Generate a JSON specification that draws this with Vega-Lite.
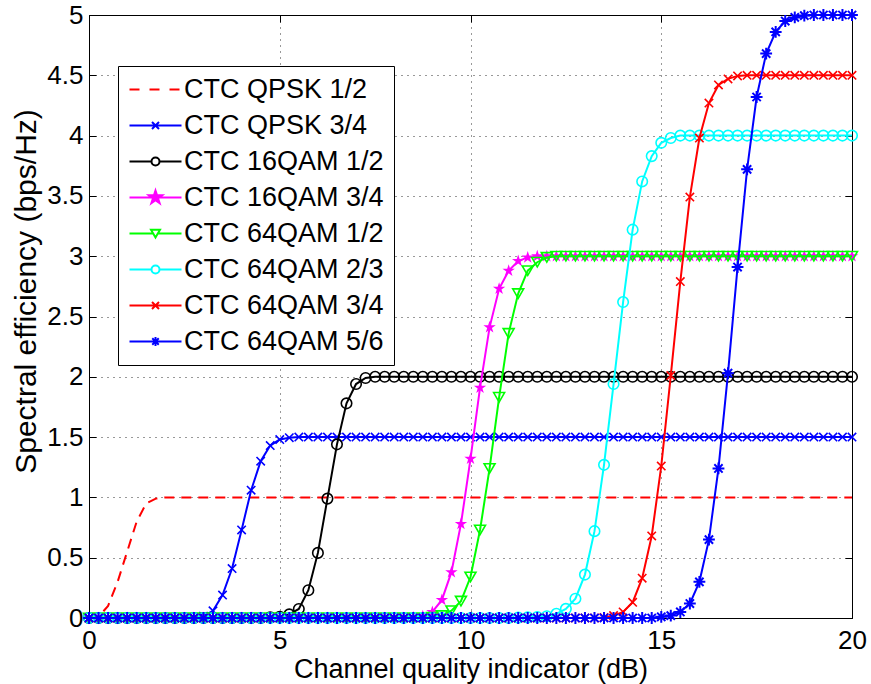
{
"$schema":"https://vega.github.io/schema/vega-lite/v6.json",
"width":763,"height":603,
"autosize":{"type":"none"},
"padding":{"left":89,"top":15,"right":19,"bottom":66},
"background":"white",
"config":{"view":{"stroke":"#000","strokeWidth":1},"font":"Liberation Sans"},
"data":{"values":[
{"s":"CTC QPSK 1/2","x":0,"y":0},{"s":"CTC QPSK 1/2","x":0.25,"y":0.01},{"s":"CTC QPSK 1/2","x":0.5,"y":0.1},{"s":"CTC QPSK 1/2","x":0.75,"y":0.3},{"s":"CTC QPSK 1/2","x":1,"y":0.55},{"s":"CTC QPSK 1/2","x":1.25,"y":0.8},{"s":"CTC QPSK 1/2","x":1.5,"y":0.95},{"s":"CTC QPSK 1/2","x":1.75,"y":0.99},{"s":"CTC QPSK 1/2","x":2,"y":1},{"s":"CTC QPSK 1/2","x":2.25,"y":1},{"s":"CTC QPSK 1/2","x":2.5,"y":1},{"s":"CTC QPSK 1/2","x":2.75,"y":1},{"s":"CTC QPSK 1/2","x":3,"y":1},{"s":"CTC QPSK 1/2","x":3.25,"y":1},{"s":"CTC QPSK 1/2","x":3.5,"y":1},{"s":"CTC QPSK 1/2","x":3.75,"y":1},{"s":"CTC QPSK 1/2","x":4,"y":1},{"s":"CTC QPSK 1/2","x":4.25,"y":1},{"s":"CTC QPSK 1/2","x":4.5,"y":1},{"s":"CTC QPSK 1/2","x":4.75,"y":1},{"s":"CTC QPSK 1/2","x":5,"y":1},{"s":"CTC QPSK 1/2","x":5.25,"y":1},{"s":"CTC QPSK 1/2","x":5.5,"y":1},{"s":"CTC QPSK 1/2","x":5.75,"y":1},{"s":"CTC QPSK 1/2","x":6,"y":1},{"s":"CTC QPSK 1/2","x":6.25,"y":1},{"s":"CTC QPSK 1/2","x":6.5,"y":1},{"s":"CTC QPSK 1/2","x":6.75,"y":1},{"s":"CTC QPSK 1/2","x":7,"y":1},{"s":"CTC QPSK 1/2","x":7.25,"y":1},{"s":"CTC QPSK 1/2","x":7.5,"y":1},{"s":"CTC QPSK 1/2","x":7.75,"y":1},{"s":"CTC QPSK 1/2","x":8,"y":1},{"s":"CTC QPSK 1/2","x":8.25,"y":1},{"s":"CTC QPSK 1/2","x":8.5,"y":1},{"s":"CTC QPSK 1/2","x":8.75,"y":1},{"s":"CTC QPSK 1/2","x":9,"y":1},{"s":"CTC QPSK 1/2","x":9.25,"y":1},{"s":"CTC QPSK 1/2","x":9.5,"y":1},{"s":"CTC QPSK 1/2","x":9.75,"y":1},{"s":"CTC QPSK 1/2","x":10,"y":1},{"s":"CTC QPSK 1/2","x":10.25,"y":1},{"s":"CTC QPSK 1/2","x":10.5,"y":1},{"s":"CTC QPSK 1/2","x":10.75,"y":1},{"s":"CTC QPSK 1/2","x":11,"y":1},{"s":"CTC QPSK 1/2","x":11.25,"y":1},{"s":"CTC QPSK 1/2","x":11.5,"y":1},{"s":"CTC QPSK 1/2","x":11.75,"y":1},{"s":"CTC QPSK 1/2","x":12,"y":1},{"s":"CTC QPSK 1/2","x":12.25,"y":1},{"s":"CTC QPSK 1/2","x":12.5,"y":1},{"s":"CTC QPSK 1/2","x":12.75,"y":1},{"s":"CTC QPSK 1/2","x":13,"y":1},{"s":"CTC QPSK 1/2","x":13.25,"y":1},{"s":"CTC QPSK 1/2","x":13.5,"y":1},{"s":"CTC QPSK 1/2","x":13.75,"y":1},{"s":"CTC QPSK 1/2","x":14,"y":1},{"s":"CTC QPSK 1/2","x":14.25,"y":1},{"s":"CTC QPSK 1/2","x":14.5,"y":1},{"s":"CTC QPSK 1/2","x":14.75,"y":1},{"s":"CTC QPSK 1/2","x":15,"y":1},{"s":"CTC QPSK 1/2","x":15.25,"y":1},{"s":"CTC QPSK 1/2","x":15.5,"y":1},{"s":"CTC QPSK 1/2","x":15.75,"y":1},{"s":"CTC QPSK 1/2","x":16,"y":1},{"s":"CTC QPSK 1/2","x":16.25,"y":1},{"s":"CTC QPSK 1/2","x":16.5,"y":1},{"s":"CTC QPSK 1/2","x":16.75,"y":1},{"s":"CTC QPSK 1/2","x":17,"y":1},{"s":"CTC QPSK 1/2","x":17.25,"y":1},{"s":"CTC QPSK 1/2","x":17.5,"y":1},{"s":"CTC QPSK 1/2","x":17.75,"y":1},{"s":"CTC QPSK 1/2","x":18,"y":1},{"s":"CTC QPSK 1/2","x":18.25,"y":1},{"s":"CTC QPSK 1/2","x":18.5,"y":1},{"s":"CTC QPSK 1/2","x":18.75,"y":1},{"s":"CTC QPSK 1/2","x":19,"y":1},{"s":"CTC QPSK 1/2","x":19.25,"y":1},{"s":"CTC QPSK 1/2","x":19.5,"y":1},{"s":"CTC QPSK 1/2","x":19.75,"y":1},{"s":"CTC QPSK 1/2","x":20,"y":1},
{"s":"CTC QPSK 3/4","x":0,"y":0},{"s":"CTC QPSK 3/4","x":0.25,"y":0},{"s":"CTC QPSK 3/4","x":0.5,"y":0},{"s":"CTC QPSK 3/4","x":0.75,"y":0},{"s":"CTC QPSK 3/4","x":1,"y":0},{"s":"CTC QPSK 3/4","x":1.25,"y":0},{"s":"CTC QPSK 3/4","x":1.5,"y":0},{"s":"CTC QPSK 3/4","x":1.75,"y":0},{"s":"CTC QPSK 3/4","x":2,"y":0},{"s":"CTC QPSK 3/4","x":2.25,"y":0},{"s":"CTC QPSK 3/4","x":2.5,"y":0},{"s":"CTC QPSK 3/4","x":2.75,"y":0.005},{"s":"CTC QPSK 3/4","x":3,"y":0.015},{"s":"CTC QPSK 3/4","x":3.25,"y":0.06},{"s":"CTC QPSK 3/4","x":3.5,"y":0.19},{"s":"CTC QPSK 3/4","x":3.75,"y":0.41},{"s":"CTC QPSK 3/4","x":4,"y":0.73},{"s":"CTC QPSK 3/4","x":4.25,"y":1.06},{"s":"CTC QPSK 3/4","x":4.5,"y":1.3},{"s":"CTC QPSK 3/4","x":4.75,"y":1.43},{"s":"CTC QPSK 3/4","x":5,"y":1.48},{"s":"CTC QPSK 3/4","x":5.25,"y":1.495},{"s":"CTC QPSK 3/4","x":5.5,"y":1.5},{"s":"CTC QPSK 3/4","x":5.75,"y":1.5},{"s":"CTC QPSK 3/4","x":6,"y":1.5},{"s":"CTC QPSK 3/4","x":6.25,"y":1.5},{"s":"CTC QPSK 3/4","x":6.5,"y":1.5},{"s":"CTC QPSK 3/4","x":6.75,"y":1.5},{"s":"CTC QPSK 3/4","x":7,"y":1.5},{"s":"CTC QPSK 3/4","x":7.25,"y":1.5},{"s":"CTC QPSK 3/4","x":7.5,"y":1.5},{"s":"CTC QPSK 3/4","x":7.75,"y":1.5},{"s":"CTC QPSK 3/4","x":8,"y":1.5},{"s":"CTC QPSK 3/4","x":8.25,"y":1.5},{"s":"CTC QPSK 3/4","x":8.5,"y":1.5},{"s":"CTC QPSK 3/4","x":8.75,"y":1.5},{"s":"CTC QPSK 3/4","x":9,"y":1.5},{"s":"CTC QPSK 3/4","x":9.25,"y":1.5},{"s":"CTC QPSK 3/4","x":9.5,"y":1.5},{"s":"CTC QPSK 3/4","x":9.75,"y":1.5},{"s":"CTC QPSK 3/4","x":10,"y":1.5},{"s":"CTC QPSK 3/4","x":10.25,"y":1.5},{"s":"CTC QPSK 3/4","x":10.5,"y":1.5},{"s":"CTC QPSK 3/4","x":10.75,"y":1.5},{"s":"CTC QPSK 3/4","x":11,"y":1.5},{"s":"CTC QPSK 3/4","x":11.25,"y":1.5},{"s":"CTC QPSK 3/4","x":11.5,"y":1.5},{"s":"CTC QPSK 3/4","x":11.75,"y":1.5},{"s":"CTC QPSK 3/4","x":12,"y":1.5},{"s":"CTC QPSK 3/4","x":12.25,"y":1.5},{"s":"CTC QPSK 3/4","x":12.5,"y":1.5},{"s":"CTC QPSK 3/4","x":12.75,"y":1.5},{"s":"CTC QPSK 3/4","x":13,"y":1.5},{"s":"CTC QPSK 3/4","x":13.25,"y":1.5},{"s":"CTC QPSK 3/4","x":13.5,"y":1.5},{"s":"CTC QPSK 3/4","x":13.75,"y":1.5},{"s":"CTC QPSK 3/4","x":14,"y":1.5},{"s":"CTC QPSK 3/4","x":14.25,"y":1.5},{"s":"CTC QPSK 3/4","x":14.5,"y":1.5},{"s":"CTC QPSK 3/4","x":14.75,"y":1.5},{"s":"CTC QPSK 3/4","x":15,"y":1.5},{"s":"CTC QPSK 3/4","x":15.25,"y":1.5},{"s":"CTC QPSK 3/4","x":15.5,"y":1.5},{"s":"CTC QPSK 3/4","x":15.75,"y":1.5},{"s":"CTC QPSK 3/4","x":16,"y":1.5},{"s":"CTC QPSK 3/4","x":16.25,"y":1.5},{"s":"CTC QPSK 3/4","x":16.5,"y":1.5},{"s":"CTC QPSK 3/4","x":16.75,"y":1.5},{"s":"CTC QPSK 3/4","x":17,"y":1.5},{"s":"CTC QPSK 3/4","x":17.25,"y":1.5},{"s":"CTC QPSK 3/4","x":17.5,"y":1.5},{"s":"CTC QPSK 3/4","x":17.75,"y":1.5},{"s":"CTC QPSK 3/4","x":18,"y":1.5},{"s":"CTC QPSK 3/4","x":18.25,"y":1.5},{"s":"CTC QPSK 3/4","x":18.5,"y":1.5},{"s":"CTC QPSK 3/4","x":18.75,"y":1.5},{"s":"CTC QPSK 3/4","x":19,"y":1.5},{"s":"CTC QPSK 3/4","x":19.25,"y":1.5},{"s":"CTC QPSK 3/4","x":19.5,"y":1.5},{"s":"CTC QPSK 3/4","x":19.75,"y":1.5},{"s":"CTC QPSK 3/4","x":20,"y":1.5},
{"s":"CTC 16QAM 1/2","x":0,"y":0},{"s":"CTC 16QAM 1/2","x":0.25,"y":0},{"s":"CTC 16QAM 1/2","x":0.5,"y":0},{"s":"CTC 16QAM 1/2","x":0.75,"y":0},{"s":"CTC 16QAM 1/2","x":1,"y":0},{"s":"CTC 16QAM 1/2","x":1.25,"y":0},{"s":"CTC 16QAM 1/2","x":1.5,"y":0},{"s":"CTC 16QAM 1/2","x":1.75,"y":0},{"s":"CTC 16QAM 1/2","x":2,"y":0},{"s":"CTC 16QAM 1/2","x":2.25,"y":0},{"s":"CTC 16QAM 1/2","x":2.5,"y":0},{"s":"CTC 16QAM 1/2","x":2.75,"y":0},{"s":"CTC 16QAM 1/2","x":3,"y":0},{"s":"CTC 16QAM 1/2","x":3.25,"y":0},{"s":"CTC 16QAM 1/2","x":3.5,"y":0},{"s":"CTC 16QAM 1/2","x":3.75,"y":0},{"s":"CTC 16QAM 1/2","x":4,"y":0},{"s":"CTC 16QAM 1/2","x":4.25,"y":0},{"s":"CTC 16QAM 1/2","x":4.5,"y":0},{"s":"CTC 16QAM 1/2","x":4.75,"y":0.005},{"s":"CTC 16QAM 1/2","x":5,"y":0.01},{"s":"CTC 16QAM 1/2","x":5.25,"y":0.03},{"s":"CTC 16QAM 1/2","x":5.5,"y":0.075},{"s":"CTC 16QAM 1/2","x":5.75,"y":0.23},{"s":"CTC 16QAM 1/2","x":6,"y":0.54},{"s":"CTC 16QAM 1/2","x":6.25,"y":0.99},{"s":"CTC 16QAM 1/2","x":6.5,"y":1.44},{"s":"CTC 16QAM 1/2","x":6.75,"y":1.78},{"s":"CTC 16QAM 1/2","x":7,"y":1.94},{"s":"CTC 16QAM 1/2","x":7.25,"y":1.99},{"s":"CTC 16QAM 1/2","x":7.5,"y":2},{"s":"CTC 16QAM 1/2","x":7.75,"y":2},{"s":"CTC 16QAM 1/2","x":8,"y":2},{"s":"CTC 16QAM 1/2","x":8.25,"y":2},{"s":"CTC 16QAM 1/2","x":8.5,"y":2},{"s":"CTC 16QAM 1/2","x":8.75,"y":2},{"s":"CTC 16QAM 1/2","x":9,"y":2},{"s":"CTC 16QAM 1/2","x":9.25,"y":2},{"s":"CTC 16QAM 1/2","x":9.5,"y":2},{"s":"CTC 16QAM 1/2","x":9.75,"y":2},{"s":"CTC 16QAM 1/2","x":10,"y":2},{"s":"CTC 16QAM 1/2","x":10.25,"y":2},{"s":"CTC 16QAM 1/2","x":10.5,"y":2},{"s":"CTC 16QAM 1/2","x":10.75,"y":2},{"s":"CTC 16QAM 1/2","x":11,"y":2},{"s":"CTC 16QAM 1/2","x":11.25,"y":2},{"s":"CTC 16QAM 1/2","x":11.5,"y":2},{"s":"CTC 16QAM 1/2","x":11.75,"y":2},{"s":"CTC 16QAM 1/2","x":12,"y":2},{"s":"CTC 16QAM 1/2","x":12.25,"y":2},{"s":"CTC 16QAM 1/2","x":12.5,"y":2},{"s":"CTC 16QAM 1/2","x":12.75,"y":2},{"s":"CTC 16QAM 1/2","x":13,"y":2},{"s":"CTC 16QAM 1/2","x":13.25,"y":2},{"s":"CTC 16QAM 1/2","x":13.5,"y":2},{"s":"CTC 16QAM 1/2","x":13.75,"y":2},{"s":"CTC 16QAM 1/2","x":14,"y":2},{"s":"CTC 16QAM 1/2","x":14.25,"y":2},{"s":"CTC 16QAM 1/2","x":14.5,"y":2},{"s":"CTC 16QAM 1/2","x":14.75,"y":2},{"s":"CTC 16QAM 1/2","x":15,"y":2},{"s":"CTC 16QAM 1/2","x":15.25,"y":2},{"s":"CTC 16QAM 1/2","x":15.5,"y":2},{"s":"CTC 16QAM 1/2","x":15.75,"y":2},{"s":"CTC 16QAM 1/2","x":16,"y":2},{"s":"CTC 16QAM 1/2","x":16.25,"y":2},{"s":"CTC 16QAM 1/2","x":16.5,"y":2},{"s":"CTC 16QAM 1/2","x":16.75,"y":2},{"s":"CTC 16QAM 1/2","x":17,"y":2},{"s":"CTC 16QAM 1/2","x":17.25,"y":2},{"s":"CTC 16QAM 1/2","x":17.5,"y":2},{"s":"CTC 16QAM 1/2","x":17.75,"y":2},{"s":"CTC 16QAM 1/2","x":18,"y":2},{"s":"CTC 16QAM 1/2","x":18.25,"y":2},{"s":"CTC 16QAM 1/2","x":18.5,"y":2},{"s":"CTC 16QAM 1/2","x":18.75,"y":2},{"s":"CTC 16QAM 1/2","x":19,"y":2},{"s":"CTC 16QAM 1/2","x":19.25,"y":2},{"s":"CTC 16QAM 1/2","x":19.5,"y":2},{"s":"CTC 16QAM 1/2","x":19.75,"y":2},{"s":"CTC 16QAM 1/2","x":20,"y":2},
{"s":"CTC 16QAM 3/4","x":0,"y":0},{"s":"CTC 16QAM 3/4","x":0.25,"y":0},{"s":"CTC 16QAM 3/4","x":0.5,"y":0},{"s":"CTC 16QAM 3/4","x":0.75,"y":0},{"s":"CTC 16QAM 3/4","x":1,"y":0},{"s":"CTC 16QAM 3/4","x":1.25,"y":0},{"s":"CTC 16QAM 3/4","x":1.5,"y":0},{"s":"CTC 16QAM 3/4","x":1.75,"y":0},{"s":"CTC 16QAM 3/4","x":2,"y":0},{"s":"CTC 16QAM 3/4","x":2.25,"y":0},{"s":"CTC 16QAM 3/4","x":2.5,"y":0},{"s":"CTC 16QAM 3/4","x":2.75,"y":0},{"s":"CTC 16QAM 3/4","x":3,"y":0},{"s":"CTC 16QAM 3/4","x":3.25,"y":0},{"s":"CTC 16QAM 3/4","x":3.5,"y":0},{"s":"CTC 16QAM 3/4","x":3.75,"y":0},{"s":"CTC 16QAM 3/4","x":4,"y":0},{"s":"CTC 16QAM 3/4","x":4.25,"y":0},{"s":"CTC 16QAM 3/4","x":4.5,"y":0},{"s":"CTC 16QAM 3/4","x":4.75,"y":0},{"s":"CTC 16QAM 3/4","x":5,"y":0},{"s":"CTC 16QAM 3/4","x":5.25,"y":0},{"s":"CTC 16QAM 3/4","x":5.5,"y":0},{"s":"CTC 16QAM 3/4","x":5.75,"y":0},{"s":"CTC 16QAM 3/4","x":6,"y":0},{"s":"CTC 16QAM 3/4","x":6.25,"y":0},{"s":"CTC 16QAM 3/4","x":6.5,"y":0},{"s":"CTC 16QAM 3/4","x":6.75,"y":0},{"s":"CTC 16QAM 3/4","x":7,"y":0},{"s":"CTC 16QAM 3/4","x":7.25,"y":0},{"s":"CTC 16QAM 3/4","x":7.5,"y":0},{"s":"CTC 16QAM 3/4","x":7.75,"y":0},{"s":"CTC 16QAM 3/4","x":8,"y":0},{"s":"CTC 16QAM 3/4","x":8.25,"y":0},{"s":"CTC 16QAM 3/4","x":8.5,"y":0.005},{"s":"CTC 16QAM 3/4","x":8.75,"y":0.015},{"s":"CTC 16QAM 3/4","x":9,"y":0.05},{"s":"CTC 16QAM 3/4","x":9.25,"y":0.15},{"s":"CTC 16QAM 3/4","x":9.5,"y":0.38},{"s":"CTC 16QAM 3/4","x":9.75,"y":0.78},{"s":"CTC 16QAM 3/4","x":10,"y":1.32},{"s":"CTC 16QAM 3/4","x":10.25,"y":1.91},{"s":"CTC 16QAM 3/4","x":10.5,"y":2.41},{"s":"CTC 16QAM 3/4","x":10.75,"y":2.73},{"s":"CTC 16QAM 3/4","x":11,"y":2.88},{"s":"CTC 16QAM 3/4","x":11.25,"y":2.96},{"s":"CTC 16QAM 3/4","x":11.5,"y":2.99},{"s":"CTC 16QAM 3/4","x":11.75,"y":3},{"s":"CTC 16QAM 3/4","x":12,"y":3},{"s":"CTC 16QAM 3/4","x":12.25,"y":3},{"s":"CTC 16QAM 3/4","x":12.5,"y":3},{"s":"CTC 16QAM 3/4","x":12.75,"y":3},{"s":"CTC 16QAM 3/4","x":13,"y":3},{"s":"CTC 16QAM 3/4","x":13.25,"y":3},{"s":"CTC 16QAM 3/4","x":13.5,"y":3},{"s":"CTC 16QAM 3/4","x":13.75,"y":3},{"s":"CTC 16QAM 3/4","x":14,"y":3},{"s":"CTC 16QAM 3/4","x":14.25,"y":3},{"s":"CTC 16QAM 3/4","x":14.5,"y":3},{"s":"CTC 16QAM 3/4","x":14.75,"y":3},{"s":"CTC 16QAM 3/4","x":15,"y":3},{"s":"CTC 16QAM 3/4","x":15.25,"y":3},{"s":"CTC 16QAM 3/4","x":15.5,"y":3},{"s":"CTC 16QAM 3/4","x":15.75,"y":3},{"s":"CTC 16QAM 3/4","x":16,"y":3},{"s":"CTC 16QAM 3/4","x":16.25,"y":3},{"s":"CTC 16QAM 3/4","x":16.5,"y":3},{"s":"CTC 16QAM 3/4","x":16.75,"y":3},{"s":"CTC 16QAM 3/4","x":17,"y":3},{"s":"CTC 16QAM 3/4","x":17.25,"y":3},{"s":"CTC 16QAM 3/4","x":17.5,"y":3},{"s":"CTC 16QAM 3/4","x":17.75,"y":3},{"s":"CTC 16QAM 3/4","x":18,"y":3},{"s":"CTC 16QAM 3/4","x":18.25,"y":3},{"s":"CTC 16QAM 3/4","x":18.5,"y":3},{"s":"CTC 16QAM 3/4","x":18.75,"y":3},{"s":"CTC 16QAM 3/4","x":19,"y":3},{"s":"CTC 16QAM 3/4","x":19.25,"y":3},{"s":"CTC 16QAM 3/4","x":19.5,"y":3},{"s":"CTC 16QAM 3/4","x":19.75,"y":3},{"s":"CTC 16QAM 3/4","x":20,"y":3},
{"s":"CTC 64QAM 1/2","x":0,"y":0},{"s":"CTC 64QAM 1/2","x":0.25,"y":0},{"s":"CTC 64QAM 1/2","x":0.5,"y":0},{"s":"CTC 64QAM 1/2","x":0.75,"y":0},{"s":"CTC 64QAM 1/2","x":1,"y":0},{"s":"CTC 64QAM 1/2","x":1.25,"y":0},{"s":"CTC 64QAM 1/2","x":1.5,"y":0},{"s":"CTC 64QAM 1/2","x":1.75,"y":0},{"s":"CTC 64QAM 1/2","x":2,"y":0},{"s":"CTC 64QAM 1/2","x":2.25,"y":0},{"s":"CTC 64QAM 1/2","x":2.5,"y":0},{"s":"CTC 64QAM 1/2","x":2.75,"y":0},{"s":"CTC 64QAM 1/2","x":3,"y":0},{"s":"CTC 64QAM 1/2","x":3.25,"y":0},{"s":"CTC 64QAM 1/2","x":3.5,"y":0},{"s":"CTC 64QAM 1/2","x":3.75,"y":0},{"s":"CTC 64QAM 1/2","x":4,"y":0},{"s":"CTC 64QAM 1/2","x":4.25,"y":0},{"s":"CTC 64QAM 1/2","x":4.5,"y":0},{"s":"CTC 64QAM 1/2","x":4.75,"y":0},{"s":"CTC 64QAM 1/2","x":5,"y":0},{"s":"CTC 64QAM 1/2","x":5.25,"y":0},{"s":"CTC 64QAM 1/2","x":5.5,"y":0},{"s":"CTC 64QAM 1/2","x":5.75,"y":0},{"s":"CTC 64QAM 1/2","x":6,"y":0},{"s":"CTC 64QAM 1/2","x":6.25,"y":0},{"s":"CTC 64QAM 1/2","x":6.5,"y":0},{"s":"CTC 64QAM 1/2","x":6.75,"y":0},{"s":"CTC 64QAM 1/2","x":7,"y":0},{"s":"CTC 64QAM 1/2","x":7.25,"y":0},{"s":"CTC 64QAM 1/2","x":7.5,"y":0},{"s":"CTC 64QAM 1/2","x":7.75,"y":0},{"s":"CTC 64QAM 1/2","x":8,"y":0},{"s":"CTC 64QAM 1/2","x":8.25,"y":0},{"s":"CTC 64QAM 1/2","x":8.5,"y":0},{"s":"CTC 64QAM 1/2","x":8.75,"y":0},{"s":"CTC 64QAM 1/2","x":9,"y":0.005},{"s":"CTC 64QAM 1/2","x":9.25,"y":0.02},{"s":"CTC 64QAM 1/2","x":9.5,"y":0.06},{"s":"CTC 64QAM 1/2","x":9.75,"y":0.14},{"s":"CTC 64QAM 1/2","x":10,"y":0.34},{"s":"CTC 64QAM 1/2","x":10.25,"y":0.73},{"s":"CTC 64QAM 1/2","x":10.5,"y":1.24},{"s":"CTC 64QAM 1/2","x":10.75,"y":1.83},{"s":"CTC 64QAM 1/2","x":11,"y":2.36},{"s":"CTC 64QAM 1/2","x":11.25,"y":2.69},{"s":"CTC 64QAM 1/2","x":11.5,"y":2.88},{"s":"CTC 64QAM 1/2","x":11.75,"y":2.95},{"s":"CTC 64QAM 1/2","x":12,"y":2.99},{"s":"CTC 64QAM 1/2","x":12.25,"y":3},{"s":"CTC 64QAM 1/2","x":12.5,"y":3},{"s":"CTC 64QAM 1/2","x":12.75,"y":3},{"s":"CTC 64QAM 1/2","x":13,"y":3},{"s":"CTC 64QAM 1/2","x":13.25,"y":3},{"s":"CTC 64QAM 1/2","x":13.5,"y":3},{"s":"CTC 64QAM 1/2","x":13.75,"y":3},{"s":"CTC 64QAM 1/2","x":14,"y":3},{"s":"CTC 64QAM 1/2","x":14.25,"y":3},{"s":"CTC 64QAM 1/2","x":14.5,"y":3},{"s":"CTC 64QAM 1/2","x":14.75,"y":3},{"s":"CTC 64QAM 1/2","x":15,"y":3},{"s":"CTC 64QAM 1/2","x":15.25,"y":3},{"s":"CTC 64QAM 1/2","x":15.5,"y":3},{"s":"CTC 64QAM 1/2","x":15.75,"y":3},{"s":"CTC 64QAM 1/2","x":16,"y":3},{"s":"CTC 64QAM 1/2","x":16.25,"y":3},{"s":"CTC 64QAM 1/2","x":16.5,"y":3},{"s":"CTC 64QAM 1/2","x":16.75,"y":3},{"s":"CTC 64QAM 1/2","x":17,"y":3},{"s":"CTC 64QAM 1/2","x":17.25,"y":3},{"s":"CTC 64QAM 1/2","x":17.5,"y":3},{"s":"CTC 64QAM 1/2","x":17.75,"y":3},{"s":"CTC 64QAM 1/2","x":18,"y":3},{"s":"CTC 64QAM 1/2","x":18.25,"y":3},{"s":"CTC 64QAM 1/2","x":18.5,"y":3},{"s":"CTC 64QAM 1/2","x":18.75,"y":3},{"s":"CTC 64QAM 1/2","x":19,"y":3},{"s":"CTC 64QAM 1/2","x":19.25,"y":3},{"s":"CTC 64QAM 1/2","x":19.5,"y":3},{"s":"CTC 64QAM 1/2","x":19.75,"y":3},{"s":"CTC 64QAM 1/2","x":20,"y":3},
{"s":"CTC 64QAM 2/3","x":0,"y":0},{"s":"CTC 64QAM 2/3","x":0.25,"y":0},{"s":"CTC 64QAM 2/3","x":0.5,"y":0},{"s":"CTC 64QAM 2/3","x":0.75,"y":0},{"s":"CTC 64QAM 2/3","x":1,"y":0},{"s":"CTC 64QAM 2/3","x":1.25,"y":0},{"s":"CTC 64QAM 2/3","x":1.5,"y":0},{"s":"CTC 64QAM 2/3","x":1.75,"y":0},{"s":"CTC 64QAM 2/3","x":2,"y":0},{"s":"CTC 64QAM 2/3","x":2.25,"y":0},{"s":"CTC 64QAM 2/3","x":2.5,"y":0},{"s":"CTC 64QAM 2/3","x":2.75,"y":0},{"s":"CTC 64QAM 2/3","x":3,"y":0},{"s":"CTC 64QAM 2/3","x":3.25,"y":0},{"s":"CTC 64QAM 2/3","x":3.5,"y":0},{"s":"CTC 64QAM 2/3","x":3.75,"y":0},{"s":"CTC 64QAM 2/3","x":4,"y":0},{"s":"CTC 64QAM 2/3","x":4.25,"y":0},{"s":"CTC 64QAM 2/3","x":4.5,"y":0},{"s":"CTC 64QAM 2/3","x":4.75,"y":0},{"s":"CTC 64QAM 2/3","x":5,"y":0},{"s":"CTC 64QAM 2/3","x":5.25,"y":0},{"s":"CTC 64QAM 2/3","x":5.5,"y":0},{"s":"CTC 64QAM 2/3","x":5.75,"y":0},{"s":"CTC 64QAM 2/3","x":6,"y":0},{"s":"CTC 64QAM 2/3","x":6.25,"y":0},{"s":"CTC 64QAM 2/3","x":6.5,"y":0},{"s":"CTC 64QAM 2/3","x":6.75,"y":0},{"s":"CTC 64QAM 2/3","x":7,"y":0},{"s":"CTC 64QAM 2/3","x":7.25,"y":0},{"s":"CTC 64QAM 2/3","x":7.5,"y":0},{"s":"CTC 64QAM 2/3","x":7.75,"y":0},{"s":"CTC 64QAM 2/3","x":8,"y":0},{"s":"CTC 64QAM 2/3","x":8.25,"y":0},{"s":"CTC 64QAM 2/3","x":8.5,"y":0},{"s":"CTC 64QAM 2/3","x":8.75,"y":0},{"s":"CTC 64QAM 2/3","x":9,"y":0},{"s":"CTC 64QAM 2/3","x":9.25,"y":0},{"s":"CTC 64QAM 2/3","x":9.5,"y":0},{"s":"CTC 64QAM 2/3","x":9.75,"y":0},{"s":"CTC 64QAM 2/3","x":10,"y":0},{"s":"CTC 64QAM 2/3","x":10.25,"y":0},{"s":"CTC 64QAM 2/3","x":10.5,"y":0},{"s":"CTC 64QAM 2/3","x":10.75,"y":0},{"s":"CTC 64QAM 2/3","x":11,"y":0},{"s":"CTC 64QAM 2/3","x":11.25,"y":0.003},{"s":"CTC 64QAM 2/3","x":11.5,"y":0.005},{"s":"CTC 64QAM 2/3","x":11.75,"y":0.008},{"s":"CTC 64QAM 2/3","x":12,"y":0.015},{"s":"CTC 64QAM 2/3","x":12.25,"y":0.035},{"s":"CTC 64QAM 2/3","x":12.5,"y":0.076},{"s":"CTC 64QAM 2/3","x":12.75,"y":0.16},{"s":"CTC 64QAM 2/3","x":13,"y":0.36},{"s":"CTC 64QAM 2/3","x":13.25,"y":0.72},{"s":"CTC 64QAM 2/3","x":13.5,"y":1.27},{"s":"CTC 64QAM 2/3","x":13.75,"y":1.94},{"s":"CTC 64QAM 2/3","x":14,"y":2.62},{"s":"CTC 64QAM 2/3","x":14.25,"y":3.22},{"s":"CTC 64QAM 2/3","x":14.5,"y":3.62},{"s":"CTC 64QAM 2/3","x":14.75,"y":3.83},{"s":"CTC 64QAM 2/3","x":15,"y":3.94},{"s":"CTC 64QAM 2/3","x":15.25,"y":3.98},{"s":"CTC 64QAM 2/3","x":15.5,"y":4},{"s":"CTC 64QAM 2/3","x":15.75,"y":4},{"s":"CTC 64QAM 2/3","x":16,"y":4},{"s":"CTC 64QAM 2/3","x":16.25,"y":4},{"s":"CTC 64QAM 2/3","x":16.5,"y":4},{"s":"CTC 64QAM 2/3","x":16.75,"y":4},{"s":"CTC 64QAM 2/3","x":17,"y":4},{"s":"CTC 64QAM 2/3","x":17.25,"y":4},{"s":"CTC 64QAM 2/3","x":17.5,"y":4},{"s":"CTC 64QAM 2/3","x":17.75,"y":4},{"s":"CTC 64QAM 2/3","x":18,"y":4},{"s":"CTC 64QAM 2/3","x":18.25,"y":4},{"s":"CTC 64QAM 2/3","x":18.5,"y":4},{"s":"CTC 64QAM 2/3","x":18.75,"y":4},{"s":"CTC 64QAM 2/3","x":19,"y":4},{"s":"CTC 64QAM 2/3","x":19.25,"y":4},{"s":"CTC 64QAM 2/3","x":19.5,"y":4},{"s":"CTC 64QAM 2/3","x":19.75,"y":4},{"s":"CTC 64QAM 2/3","x":20,"y":4},
{"s":"CTC 64QAM 3/4","x":0,"y":0},{"s":"CTC 64QAM 3/4","x":0.25,"y":0},{"s":"CTC 64QAM 3/4","x":0.5,"y":0},{"s":"CTC 64QAM 3/4","x":0.75,"y":0},{"s":"CTC 64QAM 3/4","x":1,"y":0},{"s":"CTC 64QAM 3/4","x":1.25,"y":0},{"s":"CTC 64QAM 3/4","x":1.5,"y":0},{"s":"CTC 64QAM 3/4","x":1.75,"y":0},{"s":"CTC 64QAM 3/4","x":2,"y":0},{"s":"CTC 64QAM 3/4","x":2.25,"y":0},{"s":"CTC 64QAM 3/4","x":2.5,"y":0},{"s":"CTC 64QAM 3/4","x":2.75,"y":0},{"s":"CTC 64QAM 3/4","x":3,"y":0},{"s":"CTC 64QAM 3/4","x":3.25,"y":0},{"s":"CTC 64QAM 3/4","x":3.5,"y":0},{"s":"CTC 64QAM 3/4","x":3.75,"y":0},{"s":"CTC 64QAM 3/4","x":4,"y":0},{"s":"CTC 64QAM 3/4","x":4.25,"y":0},{"s":"CTC 64QAM 3/4","x":4.5,"y":0},{"s":"CTC 64QAM 3/4","x":4.75,"y":0},{"s":"CTC 64QAM 3/4","x":5,"y":0},{"s":"CTC 64QAM 3/4","x":5.25,"y":0},{"s":"CTC 64QAM 3/4","x":5.5,"y":0},{"s":"CTC 64QAM 3/4","x":5.75,"y":0},{"s":"CTC 64QAM 3/4","x":6,"y":0},{"s":"CTC 64QAM 3/4","x":6.25,"y":0},{"s":"CTC 64QAM 3/4","x":6.5,"y":0},{"s":"CTC 64QAM 3/4","x":6.75,"y":0},{"s":"CTC 64QAM 3/4","x":7,"y":0},{"s":"CTC 64QAM 3/4","x":7.25,"y":0},{"s":"CTC 64QAM 3/4","x":7.5,"y":0},{"s":"CTC 64QAM 3/4","x":7.75,"y":0},{"s":"CTC 64QAM 3/4","x":8,"y":0},{"s":"CTC 64QAM 3/4","x":8.25,"y":0},{"s":"CTC 64QAM 3/4","x":8.5,"y":0},{"s":"CTC 64QAM 3/4","x":8.75,"y":0},{"s":"CTC 64QAM 3/4","x":9,"y":0},{"s":"CTC 64QAM 3/4","x":9.25,"y":0},{"s":"CTC 64QAM 3/4","x":9.5,"y":0},{"s":"CTC 64QAM 3/4","x":9.75,"y":0},{"s":"CTC 64QAM 3/4","x":10,"y":0},{"s":"CTC 64QAM 3/4","x":10.25,"y":0},{"s":"CTC 64QAM 3/4","x":10.5,"y":0},{"s":"CTC 64QAM 3/4","x":10.75,"y":0},{"s":"CTC 64QAM 3/4","x":11,"y":0},{"s":"CTC 64QAM 3/4","x":11.25,"y":0},{"s":"CTC 64QAM 3/4","x":11.5,"y":0},{"s":"CTC 64QAM 3/4","x":11.75,"y":0},{"s":"CTC 64QAM 3/4","x":12,"y":0},{"s":"CTC 64QAM 3/4","x":12.25,"y":0},{"s":"CTC 64QAM 3/4","x":12.5,"y":0},{"s":"CTC 64QAM 3/4","x":12.75,"y":0},{"s":"CTC 64QAM 3/4","x":13,"y":0},{"s":"CTC 64QAM 3/4","x":13.25,"y":0},{"s":"CTC 64QAM 3/4","x":13.5,"y":0.005},{"s":"CTC 64QAM 3/4","x":13.75,"y":0.02},{"s":"CTC 64QAM 3/4","x":14,"y":0.05},{"s":"CTC 64QAM 3/4","x":14.25,"y":0.13},{"s":"CTC 64QAM 3/4","x":14.5,"y":0.33},{"s":"CTC 64QAM 3/4","x":14.75,"y":0.68},{"s":"CTC 64QAM 3/4","x":15,"y":1.26},{"s":"CTC 64QAM 3/4","x":15.25,"y":2.01},{"s":"CTC 64QAM 3/4","x":15.5,"y":2.79},{"s":"CTC 64QAM 3/4","x":15.75,"y":3.49},{"s":"CTC 64QAM 3/4","x":16,"y":3.98},{"s":"CTC 64QAM 3/4","x":16.25,"y":4.27},{"s":"CTC 64QAM 3/4","x":16.5,"y":4.42},{"s":"CTC 64QAM 3/4","x":16.75,"y":4.47},{"s":"CTC 64QAM 3/4","x":17,"y":4.495},{"s":"CTC 64QAM 3/4","x":17.25,"y":4.5},{"s":"CTC 64QAM 3/4","x":17.5,"y":4.5},{"s":"CTC 64QAM 3/4","x":17.75,"y":4.5},{"s":"CTC 64QAM 3/4","x":18,"y":4.5},{"s":"CTC 64QAM 3/4","x":18.25,"y":4.5},{"s":"CTC 64QAM 3/4","x":18.5,"y":4.5},{"s":"CTC 64QAM 3/4","x":18.75,"y":4.5},{"s":"CTC 64QAM 3/4","x":19,"y":4.5},{"s":"CTC 64QAM 3/4","x":19.25,"y":4.5},{"s":"CTC 64QAM 3/4","x":19.5,"y":4.5},{"s":"CTC 64QAM 3/4","x":19.75,"y":4.5},{"s":"CTC 64QAM 3/4","x":20,"y":4.5},
{"s":"CTC 64QAM 5/6","x":0,"y":0},{"s":"CTC 64QAM 5/6","x":0.25,"y":0},{"s":"CTC 64QAM 5/6","x":0.5,"y":0},{"s":"CTC 64QAM 5/6","x":0.75,"y":0},{"s":"CTC 64QAM 5/6","x":1,"y":0},{"s":"CTC 64QAM 5/6","x":1.25,"y":0},{"s":"CTC 64QAM 5/6","x":1.5,"y":0},{"s":"CTC 64QAM 5/6","x":1.75,"y":0},{"s":"CTC 64QAM 5/6","x":2,"y":0},{"s":"CTC 64QAM 5/6","x":2.25,"y":0},{"s":"CTC 64QAM 5/6","x":2.5,"y":0},{"s":"CTC 64QAM 5/6","x":2.75,"y":0},{"s":"CTC 64QAM 5/6","x":3,"y":0},{"s":"CTC 64QAM 5/6","x":3.25,"y":0},{"s":"CTC 64QAM 5/6","x":3.5,"y":0},{"s":"CTC 64QAM 5/6","x":3.75,"y":0},{"s":"CTC 64QAM 5/6","x":4,"y":0},{"s":"CTC 64QAM 5/6","x":4.25,"y":0},{"s":"CTC 64QAM 5/6","x":4.5,"y":0},{"s":"CTC 64QAM 5/6","x":4.75,"y":0},{"s":"CTC 64QAM 5/6","x":5,"y":0},{"s":"CTC 64QAM 5/6","x":5.25,"y":0},{"s":"CTC 64QAM 5/6","x":5.5,"y":0},{"s":"CTC 64QAM 5/6","x":5.75,"y":0},{"s":"CTC 64QAM 5/6","x":6,"y":0},{"s":"CTC 64QAM 5/6","x":6.25,"y":0},{"s":"CTC 64QAM 5/6","x":6.5,"y":0},{"s":"CTC 64QAM 5/6","x":6.75,"y":0},{"s":"CTC 64QAM 5/6","x":7,"y":0},{"s":"CTC 64QAM 5/6","x":7.25,"y":0},{"s":"CTC 64QAM 5/6","x":7.5,"y":0},{"s":"CTC 64QAM 5/6","x":7.75,"y":0},{"s":"CTC 64QAM 5/6","x":8,"y":0},{"s":"CTC 64QAM 5/6","x":8.25,"y":0},{"s":"CTC 64QAM 5/6","x":8.5,"y":0},{"s":"CTC 64QAM 5/6","x":8.75,"y":0},{"s":"CTC 64QAM 5/6","x":9,"y":0},{"s":"CTC 64QAM 5/6","x":9.25,"y":0},{"s":"CTC 64QAM 5/6","x":9.5,"y":0},{"s":"CTC 64QAM 5/6","x":9.75,"y":0},{"s":"CTC 64QAM 5/6","x":10,"y":0},{"s":"CTC 64QAM 5/6","x":10.25,"y":0},{"s":"CTC 64QAM 5/6","x":10.5,"y":0},{"s":"CTC 64QAM 5/6","x":10.75,"y":0},{"s":"CTC 64QAM 5/6","x":11,"y":0},{"s":"CTC 64QAM 5/6","x":11.25,"y":0},{"s":"CTC 64QAM 5/6","x":11.5,"y":0},{"s":"CTC 64QAM 5/6","x":11.75,"y":0},{"s":"CTC 64QAM 5/6","x":12,"y":0},{"s":"CTC 64QAM 5/6","x":12.25,"y":0},{"s":"CTC 64QAM 5/6","x":12.5,"y":0},{"s":"CTC 64QAM 5/6","x":12.75,"y":0},{"s":"CTC 64QAM 5/6","x":13,"y":0},{"s":"CTC 64QAM 5/6","x":13.25,"y":0},{"s":"CTC 64QAM 5/6","x":13.5,"y":0},{"s":"CTC 64QAM 5/6","x":13.75,"y":0},{"s":"CTC 64QAM 5/6","x":14,"y":0},{"s":"CTC 64QAM 5/6","x":14.25,"y":0},{"s":"CTC 64QAM 5/6","x":14.5,"y":0},{"s":"CTC 64QAM 5/6","x":14.75,"y":0},{"s":"CTC 64QAM 5/6","x":15,"y":0.01},{"s":"CTC 64QAM 5/6","x":15.25,"y":0.02},{"s":"CTC 64QAM 5/6","x":15.5,"y":0.05},{"s":"CTC 64QAM 5/6","x":15.75,"y":0.12},{"s":"CTC 64QAM 5/6","x":16,"y":0.3},{"s":"CTC 64QAM 5/6","x":16.25,"y":0.65},{"s":"CTC 64QAM 5/6","x":16.5,"y":1.24},{"s":"CTC 64QAM 5/6","x":16.75,"y":2.03},{"s":"CTC 64QAM 5/6","x":17,"y":2.91},{"s":"CTC 64QAM 5/6","x":17.25,"y":3.72},{"s":"CTC 64QAM 5/6","x":17.5,"y":4.32},{"s":"CTC 64QAM 5/6","x":17.75,"y":4.68},{"s":"CTC 64QAM 5/6","x":18,"y":4.86},{"s":"CTC 64QAM 5/6","x":18.25,"y":4.95},{"s":"CTC 64QAM 5/6","x":18.5,"y":4.98},{"s":"CTC 64QAM 5/6","x":18.75,"y":4.995},{"s":"CTC 64QAM 5/6","x":19,"y":5},{"s":"CTC 64QAM 5/6","x":19.25,"y":5},{"s":"CTC 64QAM 5/6","x":19.5,"y":5},{"s":"CTC 64QAM 5/6","x":19.75,"y":5},{"s":"CTC 64QAM 5/6","x":20,"y":5}
]},
"resolve":{"axis":{"x":"independent","y":"independent"}},
"layer":[
{"transform":[{"filter":{"field":"s","equal":"CTC QPSK 1/2"}}],
 "mark":{"type":"line","color":"#FF0000","strokeWidth":2,"strokeDash":[10,7]},
 "encoding":{
  "x":{"field":"x","type":"quantitative","scale":{"domain":[0,20],"nice":false,"zero":false},
   "axis":{"orient":"bottom","values":[0,5,10,15,20],"title":"Channel quality indicator (dB)","grid":true,"gridDash":[1,5],"gridColor":"#000","gridOpacity":0.8,"domain":false,"ticks":true,"tickSize":-7,"tickColor":"#000","labelPadding":16,"labelFlush":false,"labelOverlap":false,"labelFont":"Liberation Sans","labelFontSize":26,"labelColor":"#000","titleFont":"Liberation Sans","titleFontSize":27,"titleFontWeight":"normal","titleColor":"#000","titlePadding":3}},
  "y":{"field":"y","type":"quantitative","scale":{"domain":[0,5],"nice":false,"zero":false},
   "axis":{"orient":"left","values":[0,0.5,1,1.5,2,2.5,3,3.5,4,4.5,5],"format":"~g","title":"Spectral efficiency (bps/Hz)","grid":true,"gridDash":[1,5],"gridColor":"#000","gridOpacity":0.8,"domain":false,"ticks":true,"tickSize":-7,"tickColor":"#000","labelPadding":13,"labelFlush":false,"labelOverlap":false,"labelFont":"Liberation Sans","labelFontSize":26,"labelColor":"#000","titleFont":"Liberation Sans","titleFontSize":30,"titleFontWeight":"normal","titleColor":"#000","titlePadding":5,"titleY":276}}}},
{"transform":[{"filter":{"field":"s","equal":"CTC QPSK 3/4"}}],"mark":{"type":"line","color":"#0000FF","strokeWidth":2},"encoding":{"x":{"field":"x","type":"quantitative","axis":null},"y":{"field":"y","type":"quantitative","axis":null}}},
{"transform":[{"filter":{"field":"s","equal":"CTC QPSK 3/4"}}],"mark":{"type":"point","shape":"M-0.8,-0.8L0.8,0.8M-0.8,0.8L0.8,-0.8","size":110,"filled":false,"color":"#0000FF","strokeWidth":1.6,"opacity":1},"encoding":{"x":{"field":"x","type":"quantitative","axis":null},"y":{"field":"y","type":"quantitative","axis":null}}},
{"transform":[{"filter":{"field":"s","equal":"CTC 16QAM 1/2"}}],"mark":{"type":"line","color":"#000000","strokeWidth":2},"encoding":{"x":{"field":"x","type":"quantitative","axis":null},"y":{"field":"y","type":"quantitative","axis":null}}},
{"transform":[{"filter":{"field":"s","equal":"CTC 16QAM 1/2"}}],"mark":{"type":"point","shape":"circle","size":110,"filled":false,"color":"#000000","strokeWidth":1.6,"opacity":1},"encoding":{"x":{"field":"x","type":"quantitative","axis":null},"y":{"field":"y","type":"quantitative","axis":null}}},
{"transform":[{"filter":{"field":"s","equal":"CTC 16QAM 3/4"}}],"mark":{"type":"line","color":"#FF00FF","strokeWidth":2},"encoding":{"x":{"field":"x","type":"quantitative","axis":null},"y":{"field":"y","type":"quantitative","axis":null}}},
{"transform":[{"filter":{"field":"s","equal":"CTC 16QAM 3/4"}}],"mark":{"type":"point","shape":"M0,-1.3L0.292,-0.402L1.236,-0.402L0.472,0.153L0.764,1.052L0,0.497L-0.764,1.052L-0.472,0.153L-1.236,-0.402L-0.292,-0.402Z","size":100,"filled":true,"color":"#FF00FF","strokeWidth":1,"opacity":1},"encoding":{"x":{"field":"x","type":"quantitative","axis":null},"y":{"field":"y","type":"quantitative","axis":null}}},
{"transform":[{"filter":{"field":"s","equal":"CTC 64QAM 1/2"}}],"mark":{"type":"line","color":"#00FF00","strokeWidth":2},"encoding":{"x":{"field":"x","type":"quantitative","axis":null},"y":{"field":"y","type":"quantitative","axis":null}}},
{"transform":[{"filter":{"field":"s","equal":"CTC 64QAM 1/2"}}],"mark":{"type":"point","shape":"triangle-down","size":120,"filled":false,"color":"#00FF00","strokeWidth":1.6,"opacity":1},"encoding":{"x":{"field":"x","type":"quantitative","axis":null},"y":{"field":"y","type":"quantitative","axis":null}}},
{"transform":[{"filter":{"field":"s","equal":"CTC 64QAM 2/3"}}],"mark":{"type":"line","color":"#00FFFF","strokeWidth":2},"encoding":{"x":{"field":"x","type":"quantitative","axis":null},"y":{"field":"y","type":"quantitative","axis":null}}},
{"transform":[{"filter":{"field":"s","equal":"CTC 64QAM 2/3"}}],"mark":{"type":"point","shape":"circle","size":110,"filled":false,"color":"#00FFFF","strokeWidth":1.6,"opacity":1},"encoding":{"x":{"field":"x","type":"quantitative","axis":null},"y":{"field":"y","type":"quantitative","axis":null}}},
{"transform":[{"filter":{"field":"s","equal":"CTC 64QAM 3/4"}}],"mark":{"type":"line","color":"#FF0000","strokeWidth":2},"encoding":{"x":{"field":"x","type":"quantitative","axis":null},"y":{"field":"y","type":"quantitative","axis":null}}},
{"transform":[{"filter":{"field":"s","equal":"CTC 64QAM 3/4"}}],"mark":{"type":"point","shape":"M-0.8,-0.8L0.8,0.8M-0.8,0.8L0.8,-0.8","size":110,"filled":false,"color":"#FF0000","strokeWidth":1.6,"opacity":1},"encoding":{"x":{"field":"x","type":"quantitative","axis":null},"y":{"field":"y","type":"quantitative","axis":null}}},
{"transform":[{"filter":{"field":"s","equal":"CTC 64QAM 5/6"}}],"mark":{"type":"line","color":"#0000FF","strokeWidth":2},"encoding":{"x":{"field":"x","type":"quantitative","axis":null},"y":{"field":"y","type":"quantitative","axis":null}}},
{"transform":[{"filter":{"field":"s","equal":"CTC 64QAM 5/6"}}],"mark":{"type":"point","shape":"M-1,0L1,0M0,-1L0,1M-0.7,-0.7L0.7,0.7M-0.7,0.7L0.7,-0.7","size":140,"filled":false,"color":"#0000FF","strokeWidth":2,"opacity":1},"encoding":{"x":{"field":"x","type":"quantitative","axis":null},"y":{"field":"y","type":"quantitative","axis":null}}},
{"transform":[{"filter":{"field":"x","equal":0}}],
 "mark":{"type":"point","filled":false,"opacity":0,"size":100,"strokeWidth":2},
 "encoding":{
  "x":{"field":"x","type":"quantitative","axis":{"orient":"top","values":[0,5,10,15,20],"labels":false,"grid":false,"domain":false,"tickSize":-7,"tickColor":"#000","title":null}},
  "y":{"field":"y","type":"quantitative","axis":{"orient":"right","values":[0,0.5,1,1.5,2,2.5,3,3.5,4,4.5,5],"labels":false,"grid":false,"domain":false,"tickSize":-7,"tickColor":"#000","title":null}},
  "stroke":{"field":"s","type":"nominal",
   "scale":{"domain":["CTC QPSK 1/2","CTC QPSK 3/4","CTC 16QAM 1/2","CTC 16QAM 3/4","CTC 64QAM 1/2","CTC 64QAM 2/3","CTC 64QAM 3/4","CTC 64QAM 5/6"],"range":["#FF0000","#0000FF","#000000","#FF00FF","#00FF00","#00FFFF","#FF0000","#0000FF"]},
   "legend":{"orient":"none","legendX":29,"legendY":51,"title":null,"strokeColor":"#000","fillColor":"#fff","padding":10,"labelFont":"Liberation Sans","labelFontSize":27,"labelColor":"#000","symbolSize":100,"symbolStrokeWidth":2,"symbolOffset":14,"labelOffset":15,"rowPadding":8,"labelLimit":400,"cornerRadius":0}},
  "shape":{"field":"s","type":"nominal",
   "scale":{"domain":["CTC QPSK 1/2","CTC QPSK 3/4","CTC 16QAM 1/2","CTC 16QAM 3/4","CTC 64QAM 1/2","CTC 64QAM 2/3","CTC 64QAM 3/4","CTC 64QAM 5/6"],
    "range":["M-5.2,0L-3.2,0M-1.2,0L0.8,0M2.8,0L4.8,0",
     "M-5.2,0L5.2,0M-0.7,-0.7L0.7,0.7M-0.7,0.7L0.7,-0.7",
     "M-5.2,0L-0.8,0M0.8,0L5.2,0M0.8,0A0.8,0.8,0,1,1,-0.8,0A0.8,0.8,0,1,1,0.8,0",
     "M-5.2,0L5.2,0M0,-1.4L0.315,-0.433L1.331,-0.433L0.509,0.165L0.823,1.133L0,0.535L-0.823,1.133L-0.509,0.165L-1.331,-0.433L-0.315,-0.433ZM0,-0.9L0.202,-0.278L0.856,-0.278L0.327,0.106L0.529,0.728L0,0.344L-0.529,0.728L-0.327,0.106L-0.856,-0.278L-0.202,-0.278ZM0,-0.45L0.101,-0.139L0.428,-0.139L0.163,0.053L0.265,0.364L0,0.172L-0.265,0.364L-0.163,0.053L-0.428,-0.139L-0.101,-0.139Z",
     "M-5.2,0L-0.46,0M0.46,0L5.2,0M0,0.8L-0.9,-0.75L0.9,-0.75Z",
     "M-5.2,0L-0.8,0M0.8,0L5.2,0M0.8,0A0.8,0.8,0,1,1,-0.8,0A0.8,0.8,0,1,1,0.8,0",
     "M-5.2,0L5.2,0M-0.7,-0.7L0.7,0.7M-0.7,0.7L0.7,-0.7",
     "M-5.2,0L5.2,0M0,-0.9L0,0.9M-0.65,-0.65L0.65,0.65M-0.65,0.65L0.65,-0.65"]},
   "legend":{"orient":"none","legendX":29,"legendY":51,"title":null,"strokeColor":"#000","fillColor":"#fff","padding":10,"labelFont":"Liberation Sans","labelFontSize":27,"labelColor":"#000","symbolSize":100,"symbolStrokeWidth":2,"symbolOffset":14,"labelOffset":15,"rowPadding":8,"labelLimit":400,"cornerRadius":0}}}}
]
}
